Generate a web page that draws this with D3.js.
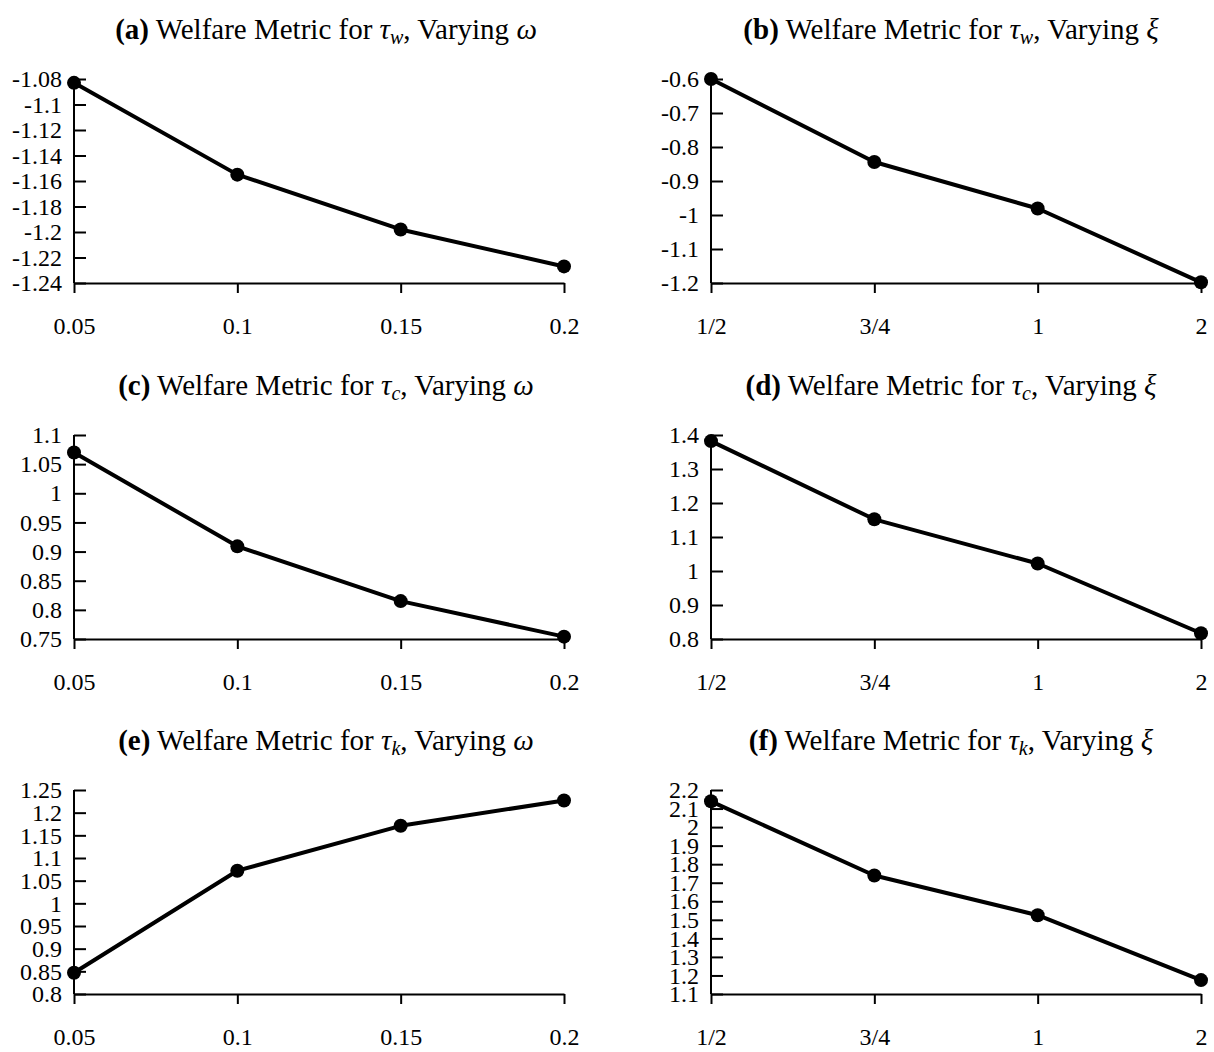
<!DOCTYPE html>
<html>
<head>
<meta charset="utf-8">
<script src="https://cdn.jsdelivr.net/npm/d3@7"></script>
<style>
  body { margin: 0; background: #fff; }
  svg text { font-family: 'Liberation Serif', 'Times New Roman', serif !important; fill: #000; }
  .axis path, .axis line { stroke: #000; stroke-width: 2; }
</style>
</head>
<body>
<div id="chart"></div>
<script>
// x categories
var omegaLabels = ["0.05", "0.1", "0.15", "0.2"];
var xiLabels = ["1/2", "3/4", "1", "2"];

// series values
var tauWOmega = [-1.083, -1.155, -1.198, -1.227];
var tauWXi = [-0.600, -0.844, -0.981, -1.198];
var tauCOmega = [1.070, 0.909, 0.815, 0.754];
var tauCXi = [1.382, 1.152, 1.022, 0.817];
var tauKOmega = [0.847, 1.072, 1.171, 1.227];
var tauKXi = [2.139, 1.739, 1.525, 1.175];

// y tick labels
var ticksA = [-1.24, -1.22, -1.2, -1.18, -1.16, -1.14, -1.12, -1.1, -1.08];
var ticksB = [-1.2, -1.1, -1, -0.9, -0.8, -0.7, -0.6];
var ticksC = [0.75, 0.8, 0.85, 0.9, 0.95, 1, 1.05, 1.1];
var ticksD = [0.8, 0.9, 1, 1.1, 1.2, 1.3, 1.4];
var ticksE = [0.8, 0.85, 0.9, 0.95, 1, 1.05, 1.1, 1.15, 1.2, 1.25];
var ticksF = [1.1, 1.2, 1.3, 1.4, 1.5, 1.6, 1.7, 1.8, 1.9, 2, 2.1, 2.2];

var panels = [
  {tag: "(a)", tau: "w", vary: "ω", cats: omegaLabels, vals: tauWOmega, ticks: ticksA, col: 0, row: 0},
  {tag: "(b)", tau: "w", vary: "ξ", cats: xiLabels, vals: tauWXi, ticks: ticksB, col: 1, row: 0},
  {tag: "(c)", tau: "c", vary: "ω", cats: omegaLabels, vals: tauCOmega, ticks: ticksC, col: 0, row: 1},
  {tag: "(d)", tau: "c", vary: "ξ", cats: xiLabels, vals: tauCXi, ticks: ticksD, col: 1, row: 1},
  {tag: "(e)", tau: "k", vary: "ω", cats: omegaLabels, vals: tauKOmega, ticks: ticksE, col: 0, row: 2},
  {tag: "(f)", tau: "k", vary: "ξ", cats: xiLabels, vals: tauKXi, ticks: ticksF, col: 1, row: 2}
];

var width = 1214,
    height = 1052;

var colLeft = [74, 711],
    rowTop = [79, 435, 790],
    titleX = [326, 951],
    plotW = 490,
    plotH = 204;

var svg = d3.select("#chart").append("svg")
    .attr("width", width)
    .attr("height", height);

var fmt = function(v) { return String(+v.toFixed(2)); };

panels.forEach(function(p) {
  var g = svg.append("g")
      .attr("transform", "translate(" + colLeft[p.col] + "," + rowTop[p.row] + ")");

  var x = d3.scalePoint()
      .domain(p.cats)
      .range([0, plotW]);

  var y = d3.scaleLinear()
      .domain(d3.extent(p.ticks))
      .range([plotH, 0]);

  // title
  var t = svg.append("text")
      .attr("x", titleX[p.col])
      .attr("y", rowTop[p.row] - 40)
      .attr("text-anchor", "middle")
      .attr("font-size", 29);
  t.append("tspan").attr("font-weight", "bold").text(p.tag);
  t.append("tspan").text(" Welfare Metric for ");
  t.append("tspan").attr("font-style", "italic").text("τ");
  t.append("tspan").attr("font-style", "italic").attr("font-size", 20).attr("dy", 5).text(p.tau);
  t.append("tspan").attr("dy", -5).text(", Varying ");
  t.append("tspan").attr("font-style", "italic").text(p.vary);

  // x axis, ticks pointing down
  var xa = g.append("g")
      .attr("class", "axis")
      .attr("transform", "translate(0," + plotH + ")")
      .call(d3.axisBottom(x).tickSize(10).tickSizeOuter(0).tickPadding(24));
  xa.attr("font-family", null).attr("font-size", 24);

  // y axis, ticks pointing inward
  var ya = g.append("g")
      .attr("class", "axis")
      .call(d3.axisLeft(y).tickValues(p.ticks).tickFormat(fmt).tickSize(-12).tickSizeOuter(0).tickPadding(12));
  ya.attr("font-family", null).attr("font-size", 24);
  ya.select(".domain").attr("d", "M0," + plotH + "V0");

  var line = d3.line()
      .x(function(d, i) { return x(p.cats[i]); })
      .y(function(d) { return y(d); });

  g.append("path")
      .datum(p.vals)
      .attr("fill", "none")
      .attr("stroke", "#000")
      .attr("stroke-width", 4)
      .attr("stroke-linejoin", "round")
      .attr("d", line);

  g.selectAll("circle")
      .data(p.vals)
      .enter().append("circle")
      .attr("cx", function(d, i) { return x(p.cats[i]); })
      .attr("cy", function(d) { return y(d); })
      .attr("r", 7)
      .attr("fill", "#000");
});
</script>
</body>
</html>
